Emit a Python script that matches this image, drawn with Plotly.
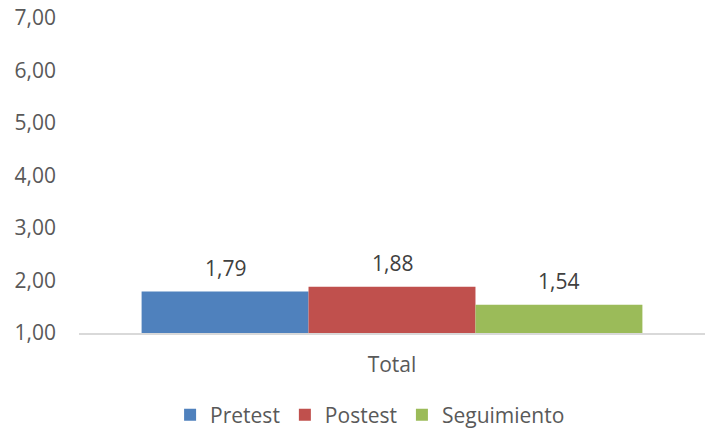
import plotly.graph_objects as go

categories = ["Total"]
series_names = ["Pretest", "Postest", "Seguimiento"]
pretest = [1.79]
postest = [1.88]
seguimiento = [1.54]
colors = ["#4F81BD", "#C0504D", "#9BBB59"]
tick_vals = [1, 2, 3, 4, 5, 6, 7]

FONT = "Open Sans"
FS = 21
BARGAP = 0.2
ML, MR = 79, 0
W, H = 705, 431

fig = go.Figure()
all_vals = [pretest, postest, seguimiento]
for name, vals, col in zip(series_names, all_vals, colors):
    fig.add_trace(go.Bar(
        x=categories, y=vals, name=name, marker_color=col, marker_line_width=0,
    ))

# data labels above each bar (offset from group center derived from bar layout)
plot_w = W - ML - MR
bar_px = (1 - BARGAP) / len(series_names) * plot_w / len(categories)
n = len(series_names)
for i, vals in enumerate(all_vals):
    for c, v in zip(categories, vals):
        fig.add_annotation(
            x=c, y=v, xref="x", yref="y",
            text=f"{v:.2f}".replace(".", ","),
            showarrow=False, yanchor="bottom", yshift=8,
            xshift=(i - (n - 1) / 2) * bar_px,
            font=dict(family=FONT, size=FS, color="#404040"),
        )

fig.update_layout(
    width=W, height=H,
    margin=dict(l=ML, r=MR, t=18, b=98, autoexpand=False),
    paper_bgcolor="white", plot_bgcolor="white",
    barmode="group", bargap=BARGAP, bargroupgap=0,
    separators=",.",
    font=dict(family=FONT, size=FS, color="#595959"),
    showlegend=True,
    legend=dict(orientation="h", x=0.465, xanchor="center",
                yref="container", y=0.037, yanchor="middle",
                font=dict(family=FONT, size=FS, color="#595959"),
                itemwidth=30, traceorder="normal"),
)
fig.update_yaxes(range=[1, 7], tickvals=tick_vals, tickformat=".2f",
                 showgrid=False, zeroline=False, showline=False,
                 ticks="", ticklabelstandoff=22, automargin=False,
                 tickfont=dict(family=FONT, size=FS, color="#595959"))
fig.update_xaxes(showline=True, linecolor="#D9D9D9", linewidth=1.5,
                 ticks="", showgrid=False, automargin=False,
                 ticklabelstandoff=12,
                 tickfont=dict(family=FONT, size=FS, color="#595959"))

fig.write_html(
    "out.html",
    config={"displayModeBar": False},
    post_script="document.body.style.margin='0';document.body.style.padding='0';"
                "document.body.style.overflow='hidden';",
)
